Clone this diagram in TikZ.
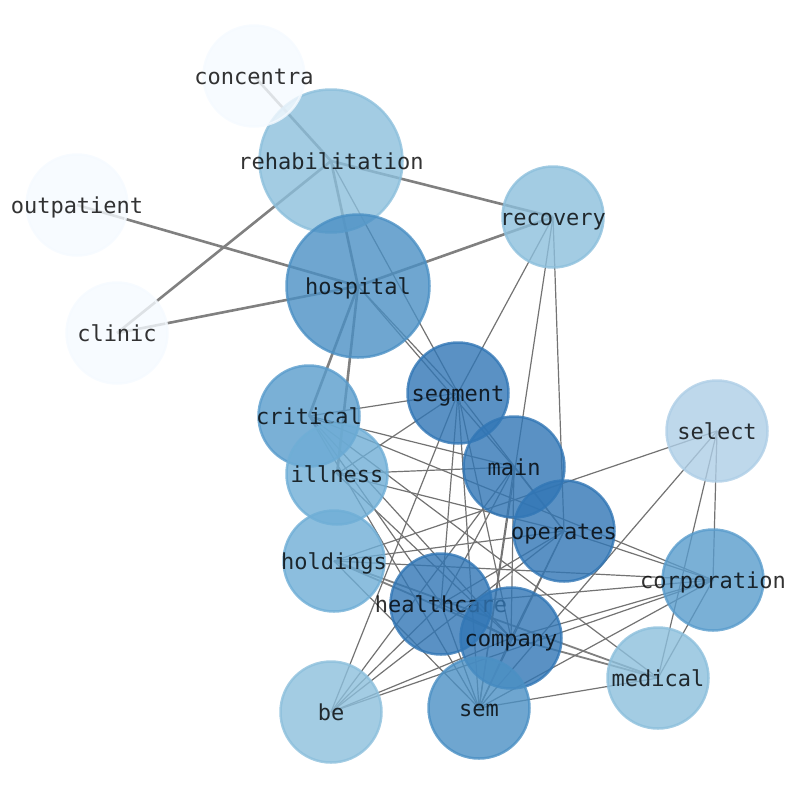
\documentclass[tikz,border=0pt]{standalone}
\usepackage{fontspec}
\newfontfamily\lblfont{DejaVu Sans Mono}
\pgfdeclarelayer{bg}
\pgfsetlayers{bg,main}
\definecolor{cwhite}{RGB}{245,250,255}
\definecolor{clight}{RGB}{140,191,220}
\definecolor{csel}{RGB}{174,206,230}
\definecolor{cill}{RGB}{111,174,214}
\definecolor{ccrit}{RGB}{89,156,204}
\definecolor{chosp}{RGB}{75,144,196}
\definecolor{cdark}{RGB}{49,118,181}
\tikzset{
  bubble/.style={circle, inner sep=0pt, minimum size=101pt, line width=2.5pt,
    fill=#1, draw=#1, fill opacity=0.8, draw opacity=0.8, text opacity=0.8,
    font=\lblfont\fontsize{22}{22}\selectfont, text=black},
  bigbubble/.style={bubble=#1, minimum size=143pt},
  thick edge/.style={draw=black!50, line width=2.6pt},
  mid edge/.style={draw=black!50, line width=1.8pt},
  thin edge/.style={draw=black!55, line width=1.2pt}
}
\newcommand{\lbl}[1]{\makebox[0pt]{\smash{\raisebox{-8pt}{#1}}}}
\begin{document}
\begin{tikzpicture}[x=1pt,y=-1pt]
\useasboundingbox (0,0) rectangle (794,790);
\node[bigbubble=clight] (rehabilitation) at (331,161) {\lbl{rehabilitation}};
\node[bubble=cwhite] (concentra) at (254,76) {\lbl{concentra}};
\node[bubble=cwhite] (outpatient) at (77,205) {\lbl{outpatient}};
\node[bubble=clight] (recovery) at (553,217) {\lbl{recovery}};
\node[bigbubble=chosp] (hospital) at (358,286) {\lbl{hospital}};
\node[bubble=cwhite] (clinic) at (117,333) {\lbl{clinic}};
\node[bubble=cdark] (segment) at (458,393) {\lbl{segment}};
\node[bubble=ccrit] (critical) at (309,416) {\lbl{critical}};
\node[bubble=cill] (illness) at (337,474) {\lbl{illness}};
\node[bubble=cdark] (main) at (514,467) {\lbl{main}};
\node[bubble=csel] (select) at (717,431) {\lbl{select}};
\node[bubble=cdark] (operates) at (564,531) {\lbl{operates}};
\node[bubble=cill] (holdings) at (334,561) {\lbl{holdings}};
\node[bubble=ccrit] (corporation) at (713,580) {\lbl{corporation}};
\node[bubble=cdark] (healthcare) at (441,604) {\lbl{healthcare}};
\node[bubble=cdark] (company) at (511,638) {\lbl{company}};
\node[bubble=clight] (medical) at (658,678) {\lbl{medical}};
\node[bubble=clight] (be) at (331,712) {\lbl{be}};
\node[bubble=chosp] (sem) at (479,708) {\lbl{sem}};
\begin{pgfonlayer}{bg}
\foreach \a/\b in {concentra/rehabilitation, outpatient/hospital, clinic/hospital,
  clinic/rehabilitation, rehabilitation/recovery, recovery/hospital,
  rehabilitation/hospital, hospital/critical, hospital/illness}
  \draw[thick edge] (\a.center) -- (\b.center);
\foreach \a/\b in {holdings/company, holdings/medical, company/medical}
  \draw[mid edge] (\a.center) -- (\b.center);
\foreach \a/\b in {recovery/segment, recovery/sem, recovery/operates,
  rehabilitation/segment, hospital/segment, hospital/main,
  critical/segment, critical/main, critical/corporation, critical/healthcare,
  critical/company, critical/sem, critical/medical,
  illness/segment, illness/main, illness/operates, illness/company,
  segment/be, segment/healthcare, segment/company, segment/sem, segment/operates,
  main/be, main/healthcare, main/company, main/sem, main/operates,
  select/holdings, select/sem, select/medical, select/corporation,
  operates/corporation, operates/healthcare, operates/company, operates/sem,
  operates/holdings, operates/be,
  holdings/corporation, holdings/sem,
  healthcare/corporation, healthcare/company, healthcare/sem, healthcare/be,
  company/corporation, company/sem, company/be,
  corporation/sem, corporation/medical, corporation/be,
  sem/medical}
  \draw[thin edge] (\a.center) -- (\b.center);
\end{pgfonlayer}
\end{tikzpicture}
\end{document}
